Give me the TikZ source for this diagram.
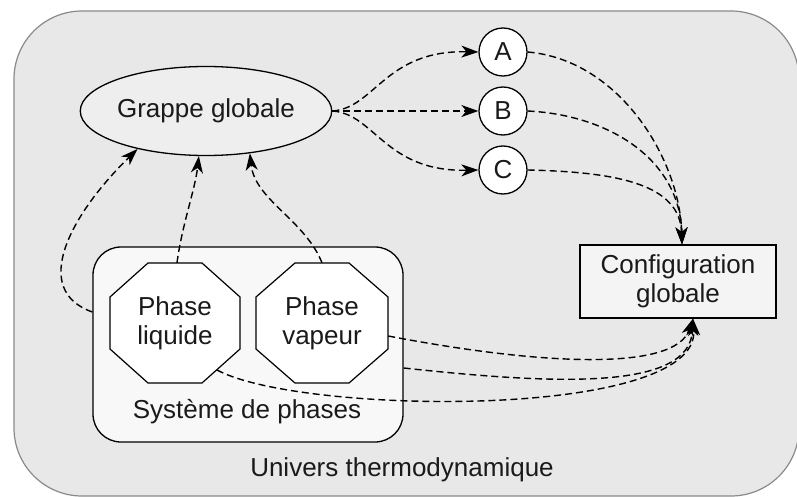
\documentclass[tikz,border=0pt]{standalone}
\usepackage{fontspec}
\setmainfont{Liberation Sans}
\usetikzlibrary{shapes.geometric,arrows.meta}
\definecolor{outerfill}{HTML}{E8E8E8}
\definecolor{framegray}{HTML}{8A8A8A}
\definecolor{ellfill}{HTML}{EEEEEE}
\definecolor{cfgfill}{HTML}{F4F4F4}
\definecolor{sysfill}{HTML}{F8F8F8}
\definecolor{txt}{HTML}{1A1A1A}
\begin{document}
\begin{tikzpicture}[x=1pt,y=-1pt,
  font=\fontsize{26}{29}\selectfont,
  every node/.style={text=txt},
  conn/.style={draw=black, line width=1.4pt, dash pattern=on 7pt off 4pt,
    -{Stealth[length=17pt,width=12pt,inset=5pt]}},
  circnode/.style={circle, draw=black, fill=white, line width=1.3pt, minimum size=48pt, inner sep=0pt},
  octoline/.style={draw=black, fill=white, line width=1.2pt},
  octo/.style={rectangle, minimum width=130pt, minimum height=120pt, align=center, inner sep=0pt}
]
\useasboundingbox (0,0) rectangle (797,497);
% outer universe
\node[draw=framegray, fill=outerfill, line width=1.2pt, rounded corners=68pt,
  minimum width=785pt, minimum height=485pt, inner sep=0pt] (univ) at (406.5,253.5) {};
\node (univlabel) at (402,470) {Univers thermodynamique};
% nodes
\node[ellipse, draw=black, fill=ellfill, line width=1.3pt, minimum width=212pt,
  minimum height=89pt, inner sep=0pt] (grappe) at (206,111) {Grappe globale};
\node[circnode] (A) at (503,52) {A};
\node[circnode] (B) at (503,111) {B};
\node[circnode] (C) at (503,170) {C};
\node[rectangle, draw=black, fill=cfgfill, line width=1.3pt, minimum width=196pt,
  minimum height=73pt, align=center, inner sep=0pt] (cfg) at (678,281.5) {Configuration\\globale};
\node[draw=black, fill=sysfill, line width=1.3pt, rounded corners=28pt,
  minimum width=310pt, minimum height=195pt, inner sep=0pt] (sys) at (248,344.5) {};
\node (syslabel) at (247,412) {Système de phases};
% octagons
\draw[octoline] (175,323) +(-27,-60) -- +(27,-60) -- +(65,-26) -- +(65,26) -- +(27,60)
  -- +(-27,60) -- +(-65,26) -- +(-65,-26) -- cycle;
\node[octo] (liq) at (175,323) {Phase\\liquide};
\draw[octoline] (322,323) +(-27,-60) -- +(27,-60) -- +(66,-26) -- +(66,26) -- +(27,60)
  -- +(-27,60) -- +(-66,26) -- +(-66,-26) -- cycle;
\node[octo, minimum width=132pt] (vap) at (322,323) {Phase\\vapeur};
% connectors to grappe
\draw[conn] ([yshift=32.5pt]sys.west) .. controls (30,290) and (70,215) .. (grappe.-151);
\draw[conn] ([xshift=2pt]liq.north) .. controls (182,225) and (195,190) .. (grappe.-99);
\draw[conn] (vap.north) .. controls (305,220) and (255,200) .. (grappe.-44);
% grappe to A B C
\draw[conn] (grappe.east) .. controls (375,108) and (385,50) .. (A.west);
\draw[conn] (grappe.east) -- (B.west);
\draw[conn] (grappe.east) .. controls (375,114) and (385,172) .. (C.west);
% A B C to cfg
\draw[conn] (A.east) .. controls (620,60) and (680,160) .. ([xshift=4pt]cfg.north);
\draw[conn] (B.east) .. controls (610,115) and (680,160) .. ([xshift=4pt]cfg.north);
\draw[conn] (C.east) .. controls (620,172) and (680,185) .. ([xshift=4pt]cfg.north);
% bottom connectors to cfg
\draw[conn] ([yshift=-13pt]vap.east) .. controls (540,365) and (675,372) .. ([xshift=15pt]cfg.south);
\draw[conn] ([yshift=-23.5pt]sys.east) .. controls (560,385) and (690,390) .. ([xshift=15pt]cfg.south);
\draw[conn] ([xshift=42pt,yshift=-47pt]liq.center) .. controls (300,415) and (700,420) .. ([xshift=15pt]cfg.south);
\end{tikzpicture}
\end{document}
